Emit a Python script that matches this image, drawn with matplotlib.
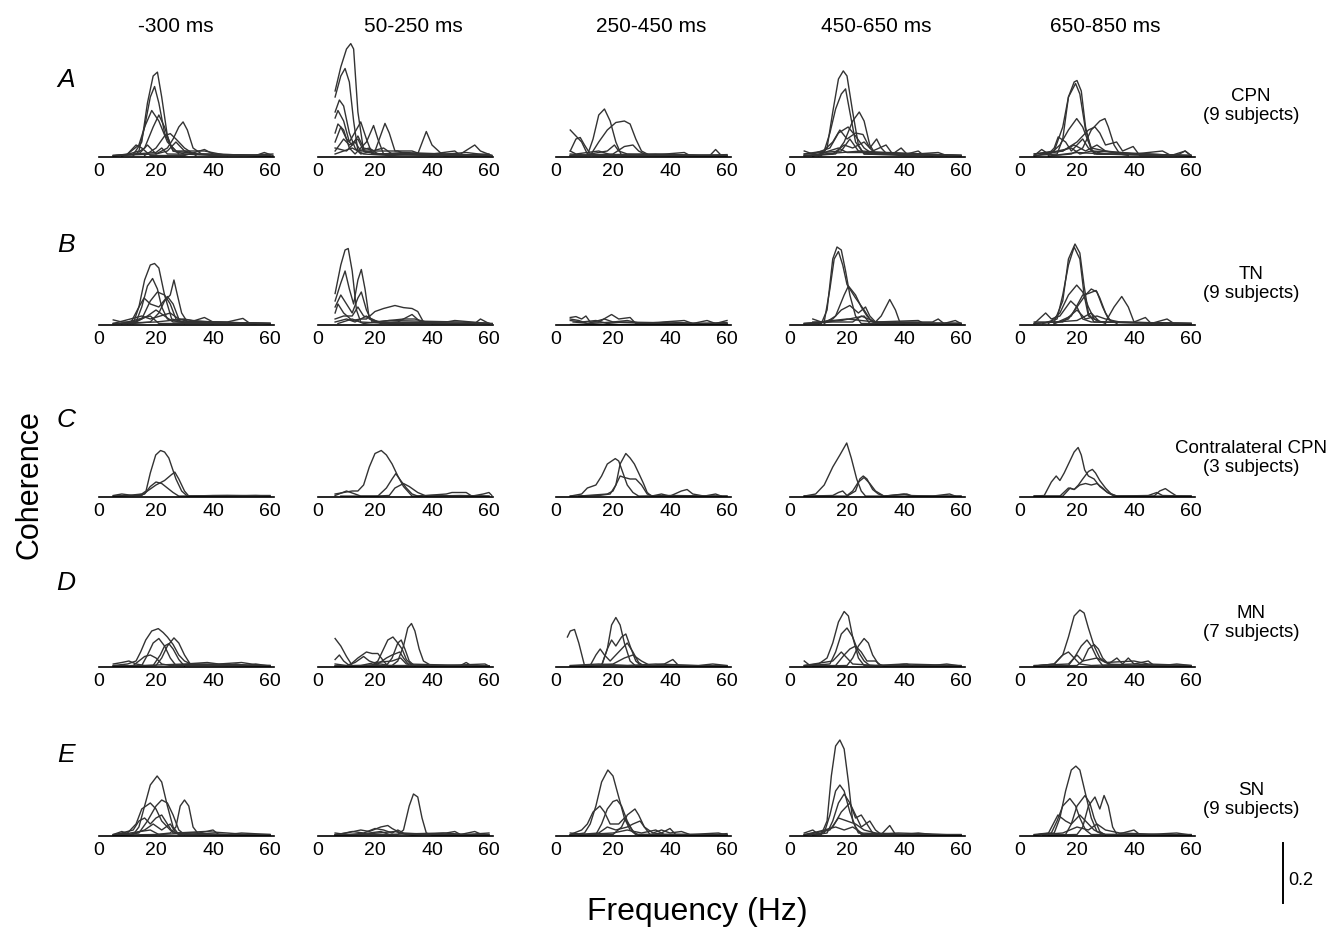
import matplotlib
matplotlib.use("Agg")
import matplotlib.pyplot as plt

plt.rcParams['font.family'] = ['Liberation Sans', 'DejaVu Sans']

# time windows (columns) and recording groups (rows)
windows = ['-300 ms', '50-250 ms', '250-450 ms', '450-650 ms', '650-850 ms']
row_letters = ['A', 'B', 'C', 'D', 'E']
groups = ['CPN\n(9 subjects)', 'TN\n(9 subjects)', 'Contralateral CPN\n(3 subjects)',
          'MN\n(7 subjects)', 'SN\n(9 subjects)']
freq_ticks = [0, 20, 40, 60]

# coherence spectra, one list of (Hz, coherence) points per subject
# row A: CPN
a1 = [
    [(5, .005), (12, .008), (15, .05), (17, .18), (19, .27), (20.5, .283), (22, .2), (24, .07), (26, .02), (30, .01), (40, .005), (60, .005)],
    [(8, .003), (14, .02), (16, .1), (18, .2), (19.5, .235), (21, .18), (23, .08), (26, .02), (35, .01), (60, .003)],
    [(10, .01), (14, .04), (16, .1), (18.5, .155), (21, .12), (24, .05), (27, .02), (37, .02), (45, .005)],
    [(12, .005), (16, .03), (19, .1), (21, .14), (23, .1), (25, .04), (28, .01)],
    [(5, .005), (20, .01), (24, .03), (26, .06), (28, .1), (29.5, .117), (31, .09), (33, .03), (36, .01), (60, .005)],
    [(16, .005), (20, .03), (23, .07), (25, .078), (27, .06), (30, .03), (34, .005)],
    [(6, .005), (10, .01), (13, .04), (15, .03), (18, .005), (30, .005), (37, .025), (40, .01), (55, .005), (58, .015), (61, .005)],
    [(5, .003), (14, .01), (17, .04), (20, .01), (24, .02), (27, .05), (30, .02), (34, .01), (61, .003)],
    [(5, .005), (20, .015), (22, .03), (24, .01), (40, .008), (50, .005), (61, .01)],
]
a2 = [
    [(6, .22), (8, .3), (10, .36), (11.5, .378), (12.5, .36), (14, .15), (16, .02), (20, .01), (30, .008), (40, .005), (60, .005)],
    [(6, .2), (8, .27), (9.5, .295), (11, .25), (12.5, .12), (14, .02), (18, .03), (21, .01), (35, .01), (38, .085), (40, .04), (44, .005), (60, .005)],
    [(6, .15), (7.5, .19), (9, .17), (11, .08), (13, .03), (15, .01), (23, .03), (26, .01), (60, .005)],
    [(6, .13), (7, .155), (9, .12), (11, .05), (14, .1), (15, .117), (17, .06), (19, .01), (30, .01), (50, .01), (55, .04), (57, .02), (61, .005)],
    [(6, .08), (7, .11), (9, .09), (11, .03), (13, .01), (17, .05), (19.5, .105), (21, .06), (23, .01), (40, .005)],
    [(6, .05), (8, .1), (10, .06), (12, .04), (14, .07), (16, .03), (20, .02), (23.5, .112), (25, .08), (27, .02), (33, .02), (36, .01), (60, .005)],
    [(6, .02), (9, .06), (11, .04), (14, .06), (16, .02), (22, .01), (30, .015), (45, .01), (52, .015), (61, .005)],
    [(6, .03), (10, .02), (13, .05), (15, .02), (28, .02), (31, .01), (45, .005), (60, .01)],
    [(6, .01), (12, .03), (16, .01), (25, .005), (40, .01), (48, .02), (50, .005), (61, .005)],
]
a3 = [
    [(5, .005), (11, .005), (13, .06), (15, .14), (17, .16), (19, .12), (21, .05), (23, .005), (40, .005), (60, .005)],
    [(5, .01), (12, .005), (15, .05), (18, .09), (21, .115), (24, .12), (26, .11), (28, .06), (30, .02), (33, .005), (60, .005)],
    [(5, .09), (7, .07), (9, .05), (11, .01), (13, .005), (30, .005), (60, .003)],
    [(5, .02), (7, .06), (8.5, .065), (10, .04), (12, .01), (18, .02), (20.5, .04), (22, .02), (25, .01), (40, .005)],
    [(5, .005), (20, .01), (24, .035), (27, .04), (29, .02), (32, .005), (45, .015), (47, .005), (54, .005), (56, .025), (58, .005)],
    [(5, .02), (7, .01), (15, .02), (20, .005), (35, .01), (50, .005), (60, .008)],
    [(5, .005), (30, .01), (60, .005)],
]
a4 = [
    [(5, .005), (11, .005), (13, .03), (15, .15), (17, .26), (18.7, .287), (20, .27), (22, .15), (24, .04), (26, .01), (40, .005), (60, .005)],
    [(5, .01), (12, .02), (14, .08), (16, .16), (18, .21), (19.5, .227), (21, .15), (23, .05), (26, .01), (45, .01), (60, .005)],
    [(8, .005), (16, .01), (19, .05), (22, .12), (24.3, .15), (26, .12), (28, .04), (30, .01), (60, .005)],
    [(5, .02), (8, .01), (14, .03), (17, .08), (20.4, .1), (23, .07), (26, .03), (29, .01), (60, .005)],
    [(10, .005), (15, .05), (17.5, .09), (20, .06), (23, .08), (25.6, .075), (28, .03), (30.4, .06), (32, .03), (34, .01), (50, .005)],
    [(5, .005), (15, .01), (19, .04), (22, .03), (26, .05), (29, .02), (33.7, .04), (36, .01), (39, .03), (41, .01), (45, .02), (47, .005), (60, .005)],
    [(5, .01), (18, .02), (21, .06), (24, .02), (28, .01), (44, .01), (52, .015), (55, .005)],
    [(8, .003), (17, .03), (20, .015), (35, .015), (60, .005)],
    [(5, .005), (25, .02), (50, .005)],
]
a5 = [
    [(5, .005), (13, .01), (15, .06), (17, .2), (19, .25), (20, .255), (21.5, .22), (23, .1), (25, .02), (30, .01), (60, .005)],
    [(5, .01), (12, .02), (15, .1), (17, .2), (19.5, .245), (21, .21), (23, .09), (25, .03), (35, .01), (60, .005)],
    [(10, .005), (14, .04), (17, .09), (19.9, .128), (22, .1), (24, .05), (26, .01), (60, .005)],
    [(12, .005), (18, .01), (22, .03), (25, .09), (28, .12), (29.8, .128), (31, .1), (33, .04), (35, .01), (38, .005)],
    [(8, .01), (15, .02), (20, .05), (24, .09), (26.3, .1), (28, .08), (30, .04), (33.9, .05), (36, .02), (39.7, .035), (42, .005), (60, .005)],
    [(5, .005), (7.6, .025), (10, .01), (12, .03), (13.4, .067), (16, .05), (18, .02), (22, .06), (24, .03), (27, .01), (50, .005)],
    [(5, .01), (15, .02), (19, .04), (23, .02), (27, .04), (30, .02), (40, .01), (50, .02), (53, .005), (58, .02), (60, .005)],
    [(10, .003), (20, .015), (30, .01), (45, .01), (55, .005), (57.9, .02), (60, .005)],
    [(5, .003), (18, .03), (21, .01), (25, .02), (60, .003)],
]

# row B: TN
b1 = [
    [(5, .005), (12, .005), (14, .06), (16, .15), (18, .2), (19.5, .205), (21, .19), (23, .1), (25.5, .02), (30, .01), (60, .005)],
    [(8, .005), (13, .01), (15, .06), (17, .13), (18.8, .155), (20.5, .12), (22, .06), (24, .02), (28, .01), (40, .005)],
    [(10, .005), (15, .02), (18, .08), (20.5, .11), (23, .1), (25, .07), (27, .02), (30, .005)],
    [(12, .005), (18, .01), (21, .04), (23, .08), (25, .1), (26.3, .15), (27.5, .1), (29, .04), (31, .01), (35, .01), (60, .005)],
    [(11, .005), (14, .06), (15.8, .09), (18, .07), (21, .06), (24, .095), (26, .07), (28, .02), (32, .01), (37, .025), (40, .01), (60, .005)],
    [(5, .017), (8, .01), (13, .01), (17, .03), (20, .05), (23, .03), (26, .01), (45, .01), (50.5, .022), (53, .005), (60, .005)],
    [(5, .005), (15, .03), (18, .02), (25, .04), (28, .02), (33, .015), (40, .01), (60, .005)],
    [(5, .005), (20, .01), (30, .02), (35, .01), (55, .005)],
    [(8, .005), (18, .03), (21, .005), (60, .005)],
]
b2 = [
    [(6, .105), (8, .2), (9.5, .25), (10.6, .255), (12, .18), (13.5, .05), (15, .01), (25, .005), (60, .005)],
    [(6, .08), (8, .14), (9.5, .18), (11, .12), (12.5, .07), (14, .15), (15.2, .185), (16.5, .12), (18, .02), (22, .01), (60, .005)],
    [(6, .06), (8, .1), (10, .07), (12, .04), (14, .09), (15.2, .11), (17, .05), (19, .01), (30, .005)],
    [(6, .04), (7, .07), (9, .04), (12, .015), (15, .02), (17, .02), (20, .045), (23, .055), (27, .065), (30, .058), (33, .055), (35, .045), (37, .01), (40, .005)],
    [(6, .02), (9, .03), (12, .03), (14, .06), (16, .03), (19, .02), (22, .005), (28, .01), (33, .035), (36, .01), (45, .01), (48, .015), (60, .005)],
    [(6, .01), (10, .02), (13, .01), (17, .03), (20, .01), (30, .02), (34, .02), (40, .005), (55, .005), (57, .02), (60, .005)],
    [(7, .005), (12, .02), (16, .005), (25, .015), (50, .01), (62, .005)],
]
b3 = [
    [(5, .025), (7, .028), (9, .02), (10.5, .03), (12, .01), (15, .01), (19.5, .035), (22, .02), (26, .025), (28, .005), (40, .005), (60, .005)],
    [(5, .02), (8, .015), (11, .005), (17, .02), (20, .01), (25, .015), (30, .005), (45, .015), (48, .005), (53, .015), (56, .005), (60, .015)],
    [(5, .015), (9, .01), (14, .015), (18, .005), (23, .01), (35, .008), (44, .005), (60, .005)],
    [(6, .01), (12, .005), (20, .01), (33, .005), (40, .01), (50, .005), (60, .008)],
    [(5, .005), (30, .005), (60, .005)],
]
b4 = [
    [(5, .005), (11, .005), (13, .05), (15, .22), (16.5, .26), (18, .25), (19.5, .18), (21, .1), (23, .03), (25, .005), (60, .005)],
    [(8, .01), (12, .01), (14, .12), (15.5, .22), (17, .245), (18.5, .2), (20, .135), (23, .09), (26, .05), (28, .02), (30, .005), (60, .005)],
    [(12, .005), (16, .03), (19, .1), (20.5, .13), (23, .1), (25, .06), (27, .03), (29, .01), (40, .005)],
    [(10, .005), (15, .02), (18, .05), (21, .065), (24, .04), (26.5, .06), (28, .03), (30, .01), (45, .015), (47, .005), (60, .005)],
    [(5, .005), (15, .01), (22, .01), (25, .03), (30, .01), (32, .03), (35, .085), (37, .05), (38.5, .01), (50, .01), (52, .02), (54, .005), (58, .015), (60, .005)],
    [(8, .02), (11, .01), (18, .015), (26, .03), (28, .005), (60, .005)],
    [(5, .005), (20, .02), (30, .01), (60, .005)],
]
b5 = [
    [(5, .005), (12, .01), (15, .08), (17, .22), (19.3, .27), (21, .24), (22.5, .13), (24, .04), (26, .01), (60, .005)],
    [(8, .005), (13, .02), (15, .1), (17, .2), (19, .26), (21, .22), (22.5, .1), (24, .03), (28, .01), (60, .005)],
    [(10, .005), (14, .04), (17, .1), (19.9, .133), (22, .11), (24, .06), (26, .02), (30, .005)],
    [(12, .005), (17, .02), (20, .06), (23, .1), (25, .12), (27, .11), (29, .06), (31, .02), (34, .005)],
    [(12, .005), (18, .03), (22, .1), (24, .105), (26.7, .115), (28, .09), (30, .04), (32, .01), (60, .005)],
    [(5, .005), (9, .04), (11, .02), (14, .03), (17.8, .08), (20, .06), (22, .02), (25, .01), (30, .01), (33, .06), (35.7, .095), (38, .06), (40, .01), (44, .025), (46, .005), (51.6, .02), (54, .005), (60, .005)],
    [(5, .01), (15, .01), (20, .05), (23, .02), (27, .03), (30, .02), (35, .01), (60, .005)],
    [(5, .005), (20, .015), (25, .04), (28, .01), (50, .005)],
]

# row C: contralateral CPN
c1 = [
    [(5, .003), (10, .005), (15, .01), (16.5, .02), (18, .08), (19.9, .14), (21.6, .155), (23, .15), (24.5, .13), (27, .06), (29, .02), (31, .003), (40, .005), (60, .005)],
    [(5, .005), (8, .01), (12, .005), (16, .01), (18, .035), (20, .05), (22, .045), (24, .03), (26, .015), (28, .003), (45, .005), (60, .003)],
    [(5, .003), (15, .005), (17, .02), (20, .04), (23, .055), (25.5, .075), (26.6, .083), (28, .06), (30, .02), (31.5, .003), (45, .003), (55, .005), (60, .003)],
]
c2 = [
    [(6, .01), (9, .015), (12, .02), (14, .02), (16, .04), (18, .1), (20, .145), (22.2, .155), (24, .14), (26, .11), (28, .07), (30, .035), (33, .003), (40, .005), (60, .003)],
    [(6, .005), (10, .02), (13, .01), (15, .003), (21, .003), (24, .03), (26, .06), (27.3, .078), (29, .055), (31, .03), (33, .01), (35, .003), (45, .01), (47, .015), (52, .015), (54, .003), (58, .01), (60, .015), (61, .005)],
    [(8, .003), (20, .003), (25, .005), (27, .03), (30, .045), (32, .035), (35, .015), (38, .003), (50, .005), (60, .003)],
]
c3 = [
    [(5, .003), (9, .01), (11, .03), (14, .04), (16, .07), (18, .11), (20.8, .128), (22, .12), (23.5, .08), (25, .04), (27, .015), (29, .003), (40, .005), (60, .003)],
    [(5, .003), (15, .005), (19, .01), (21, .04), (22.5, .11), (24.5, .145), (26, .13), (27.5, .11), (29, .08), (30.7, .045), (32, .015), (33.5, .003), (37, .01), (40, .003), (44, .02), (46, .025), (48, .01), (52, .003), (56, .01), (58, .003)],
    [(8, .003), (18, .01), (20, .02), (22.5, .07), (24, .065), (26, .06), (28, .06), (30, .04), (32, .01), (34, .003), (60, .003)],
]
c4 = [
    [(5, .003), (9, .01), (12, .04), (15, .1), (17.5, .14), (19.9, .18), (21.5, .13), (23.4, .06), (25, .02), (26.5, .003), (60, .003)],
    [(5, .003), (20, .003), (23, .02), (24.5, .06), (25.7, .07), (27, .06), (29, .025), (31, .01), (33, .003), (41, .01), (43, .003), (60, .003)],
    [(5, .003), (15, .005), (17, .015), (18.5, .02), (20, .005), (22, .02), (24, .05), (26, .065), (28, .045), (30, .02), (33, .003), (40, .01), (42, .005), (50, .003), (56, .01), (58, .003)],
]
c5 = [
    [(5, .003), (8.5, .005), (11, .05), (12.7, .07), (14, .055), (15.5, .08), (17, .11), (19, .15), (20.4, .165), (21.5, .14), (22.7, .09), (24, .07), (26, .06), (28, .035), (30.7, .015), (34, .003), (60, .003)],
    [(5, .003), (14, .003), (17, .03), (19, .025), (20.5, .04), (22, .06), (24, .085), (25.4, .092), (26.5, .08), (28, .055), (30, .03), (32, .01), (34, .003), (47, .003), (49, .02), (51, .028), (53, .015), (55, .003), (60, .003)],
    [(5, .003), (15, .003), (17.6, .03), (19, .025), (21, .04), (23, .045), (25, .04), (27, .045), (29, .03), (30.7, .015), (33, .003), (45, .005), (48, .015), (50, .005), (60, .003)],
]

# row D: MN
d1 = [
    [(5, .005), (10, .01), (13, .02), (14.6, .05), (16.4, .09), (18.5, .12), (20.8, .128), (22.5, .115), (24, .1), (26, .075), (28, .04), (30, .02), (32.7, .008), (40, .01), (60, .005)],
    [(5, .003), (15, .005), (17, .04), (19, .08), (21, .095), (23, .07), (25, .03), (27, .005), (45, .005), (60, .003)],
    [(5, .003), (20, .005), (22, .03), (24, .07), (26.3, .097), (28, .08), (30, .04), (32, .01), (40, .005), (60, .003)],
    [(8, .003), (19, .005), (21.5, .04), (23, .07), (24.5, .078), (26, .06), (28, .025), (30, .003)],
    [(5, .003), (12, .005), (14, .02), (16, .035), (18, .04), (20, .03), (22, .01), (25, .005), (35, .01), (45, .005), (48, .01), (52, .005), (55, .01), (60, .003)],
    [(5, .01), (8, .015), (10.5, .02), (13, .01), (16, .005), (30, .01), (38, .015), (42, .01), (50, .015), (57, .005), (60, .005)],
]
d2 = [
    [(6, .003), (20, .003), (26, .005), (28, .02), (30, .07), (31.5, .13), (32.8, .145), (34, .12), (35.5, .06), (37, .02), (40, .003), (60, .003)],
    [(6, .003), (19, .005), (21, .02), (23, .06), (24.5, .09), (26.3, .1), (28, .08), (29.5, .06), (31, .025), (33, .005), (40, .003)],
    [(10, .003), (24, .005), (26, .03), (28, .08), (29.2, .09), (30.5, .06), (32, .02), (34, .003)],
    [(6, .095), (8, .07), (10, .035), (12, .005), (16, .005), (22, .01), (25, .005), (50, .005), (52, .015), (54, .003), (60, .003)],
    [(6, .025), (7.5, .04), (9, .02), (11, .005), (14, .03), (17, .05), (19, .045), (21, .045), (23, .02), (24.5, .003), (40, .005), (60, .003)],
    [(6, .01), (10, .005), (13, .015), (16, .035), (18, .02), (21, .01), (24, .03), (26, .04), (28.7, .05), (30, .03), (32, .005), (45, .005), (58.6, .01), (60, .003)],
    [(6, .003), (15, .005), (20, .015), (26, .02), (29, .03), (31, .01), (60, .003)],
]
d3 = [
    [(4, .1), (5, .12), (6.5, .125), (8, .08), (10, .005), (20, .005), (60, .003)],
    [(5, .003), (16, .005), (18, .06), (19.5, .14), (21, .165), (22.5, .14), (24, .08), (26, .02), (28, .003), (40, .003)],
    [(8, .003), (16, .005), (18, .06), (19.5, .09), (21, .07), (23, .1), (24.5, .11), (26, .07), (28, .02), (30, .003)],
    [(5, .003), (12, .005), (14, .04), (15.5, .06), (17, .04), (19, .02), (22, .05), (25, .08), (27, .05), (29, .015), (31, .003), (60, .003)],
    [(10, .003), (20, .01), (24, .03), (27, .04), (30, .02), (33, .005), (38, .01), (41, .025), (43, .005), (60, .003)],
    [(5, .005), (15, .01), (25, .005), (35, .01), (50, .005), (55, .01), (60, .005)],
]
d4 = [
    [(5, .005), (10, .01), (13, .03), (15, .08), (17, .15), (19, .185), (20.5, .17), (22, .1), (24, .03), (26, .005), (60, .003)],
    [(5, .02), (7, .005), (14, .01), (16, .05), (18, .11), (20, .13), (22, .1), (24, .05), (26, .02), (28, .005), (60, .003)],
    [(8, .003), (20, .005), (22, .03), (24, .07), (26, .095), (27.5, .08), (29, .04), (31, .01), (33, .003), (41, .01), (43, .003)],
    [(5, .003), (16, .005), (19, .04), (21, .06), (23, .07), (25, .05), (27, .02), (30, .02), (32, .005), (50, .005), (55, .01), (60, .003)],
    [(5, .005), (15, .02), (18, .05), (20, .03), (22, .01), (30, .005), (40, .01), (60, .005)],
]
d5 = [
    [(5, .003), (12, .01), (15, .04), (17, .1), (19, .17), (21, .19), (22.5, .18), (24, .13), (26, .07), (28, .03), (31, .01), (40, .005), (60, .003)],
    [(5, .003), (17, .005), (19, .03), (21.5, .07), (23.5, .09), (25, .07), (27, .03), (29, .005), (60, .003)],
    [(10, .003), (20, .005), (22, .02), (24, .06), (26, .075), (27.5, .06), (29, .03), (31, .01), (34, .03), (36, .01), (38, .03), (40, .01), (45, .02), (47, .005)],
    [(5, .003), (12, .01), (15, .04), (17, .05), (19, .03), (21, .01), (25, .005), (40, .01), (50, .005), (55, .01), (60, .005)],
    [(5, .005), (17, .01), (20, .04), (22, .02), (27, .03), (30, .015), (40, .02), (45, .01), (60, .005)],
]

# row E: SN
e1 = [
    [(5, .003), (12, .005), (14, .03), (16, .1), (18, .17), (20.4, .2), (22, .18), (24, .1), (26, .03), (28, .005), (40, .005), (60, .003)],
    [(5, .003), (20, .005), (25, .01), (27, .03), (28.5, .1), (30, .12), (31.5, .1), (33, .03), (35, .005), (60, .003)],
    [(8, .003), (14, .01), (17, .05), (20, .1), (22, .12), (24, .11), (26, .07), (28, .02), (30, .005)],
    [(5, .005), (10, .01), (13, .04), (15, .09), (18, .11), (20, .09), (22, .05), (25, .02), (28, .005), (60, .003)],
    [(5, .003), (12, .02), (14, .05), (16, .06), (18, .04), (20, .06), (22, .07), (24, .04), (26, .01), (35, .01), (40, .02), (42, .005), (60, .003)],
    [(5, .005), (8, .015), (11, .005), (16, .02), (19, .04), (22, .02), (25, .04), (27, .01), (37, .015), (45, .01), (52, .005), (60, .005)],
    [(6, .003), (18, .02), (21, .005), (33, .01), (45, .005), (50, .01), (60, .005)],
]
e2 = [
    [(6, .003), (20, .005), (28, .005), (30, .02), (32, .1), (33.5, .14), (35, .13), (36.5, .06), (38, .01), (40, .003), (60, .003)],
    [(6, .005), (10, .01), (15, .02), (18, .015), (22, .03), (24.5, .035), (26, .025), (29, .01), (33, .003), (45, .01), (48, .015), (50, .005), (55, .015), (58, .003)],
    [(6, .003), (12, .015), (16, .01), (20, .025), (23, .02), (26, .01), (28, .02), (30, .01), (40, .005), (60, .005)],
    [(6, .01), (10, .005), (18, .01), (22, .015), (25, .005), (35, .008), (44, .01), (52, .005), (60, .01)],
    [(6, .003), (15, .005), (27, .015), (31, .005), (60, .003)],
]
e3 = [
    [(5, .003), (10, .01), (12, .04), (14, .1), (16, .18), (18.2, .22), (20, .2), (22, .13), (24, .06), (26, .02), (28, .005), (40, .005), (60, .003)],
    [(5, .003), (14, .005), (16, .04), (18, .09), (20, .115), (21.4, .12), (23, .1), (25, .05), (27, .015), (29, .003), (60, .003)],
    [(8, .003), (20, .005), (23, .03), (25, .07), (27.7, .09), (29, .07), (31, .03), (33, .005), (37, .01), (40, .025), (42, .005), (60, .003)],
    [(5, .005), (9, .02), (11, .04), (13, .08), (15.4, .1), (17, .08), (19, .04), (22, .04), (24, .06), (26, .03), (28, .005), (45, .005), (60, .003)],
    [(5, .003), (15, .01), (18, .03), (21, .02), (25, .03), (27, .04), (29.5, .05), (31, .03), (34, .01), (37, .02), (40, .01), (44, .015), (47, .005), (57, .01), (60, .003)],
    [(5, .01), (10, .005), (20, .01), (25, .02), (30, .01), (35, .02), (38, .005), (55, .005), (60, .008)],
]
e4 = [
    [(5, .005), (11, .005), (13, .05), (14.5, .2), (16, .3), (17.5, .32), (19, .29), (20.5, .18), (22, .05), (24, .01), (40, .005), (60, .003)],
    [(5, .003), (12, .01), (14, .07), (16, .15), (17.5, .17), (19, .15), (21, .08), (23, .03), (25, .005), (60, .003)],
    [(8, .003), (13, .01), (15, .05), (17, .11), (19, .14), (21, .11), (23, .06), (25, .07), (27, .04), (29, .01), (32, .005)],
    [(5, .01), (8, .02), (10, .005), (15, .03), (18, .08), (21, .11), (23, .07), (25, .03), (28, .05), (30, .02), (32, .005), (35, .035), (37, .005), (60, .003)],
    [(5, .003), (14, .02), (17, .06), (20, .05), (23, .04), (26, .02), (30, .01), (40, .005), (45, .01), (50, .005), (60, .003)],
    [(5, .005), (10, .015), (16, .03), (19, .02), (22, .03), (26, .005), (38, .01), (55, .005), (60, .005)],
]
e5 = [
    [(5, .003), (12, .01), (14, .06), (16, .15), (18, .22), (19.6, .233), (21, .22), (23, .14), (25, .06), (27, .015), (30, .005), (60, .003)],
    [(5, .003), (11, .01), (13, .05), (15, .1), (17.5, .125), (19.5, .1), (21, .06), (23, .02), (25, .005), (60, .003)],
    [(8, .003), (16, .005), (18, .04), (20, .1), (22.8, .135), (24.5, .11), (26, .06), (28, .015), (30, .003)],
    [(10, .003), (20, .005), (22, .03), (24, .1), (26.3, .13), (28, .09), (29.5, .135), (31, .1), (32.5, .03), (34, .005), (40, .02), (42, .005), (60, .003)],
    [(5, .005), (10, .01), (13.3, .07), (16, .05), (18, .04), (21, .07), (23, .05), (26, .02), (29, .005), (45, .005), (55, .01), (60, .003)],
    [(5, .003), (15, .01), (20, .03), (24, .02), (27, .04), (30, .02), (35, .01), (50, .005), (60, .005)],
]

panels = [[a1, a2, a3, a4, a5],
          [b1, b2, b3, b4, b5],
          [c1, c2, c3, c4, c5],
          [d1, d2, d3, d4, d5],
          [e1, e2, e3, e4, e5]]

W, H = 1332, 933
fig = plt.figure(figsize=(W / 100, H / 100), dpi=100)

# layout in pixels: x of 0 Hz per column, baseline y per row
col_x0 = [99, 318, 556, 790, 1020]
row_y0 = [157, 325, 497, 667, 836]
px_per_hz = 2.85
xmax = 61.5
ymax = 0.45
ax_h = 135  # px, so 0.45 coherence -> 135 px (0.2 -> 60 px)

axes = []
for r in range(5):
    for c in range(5):
        left = col_x0[c] / W
        bottom = (H - row_y0[r]) / H
        ax = fig.add_axes([left, bottom, xmax * px_per_hz / W, ax_h / H])
        for curve in panels[r][c]:
            f = [p[0] for p in curve]
            coh = [p[1] for p in curve]
            ax.plot(f, coh, color='#333333', lw=1.0)
        ax.set_xlim(0, xmax)
        ax.set_ylim(0, ymax)
        for s in ['top', 'right', 'left']:
            ax.spines[s].set_visible(False)
        ax.spines['bottom'].set_linewidth(1.2)
        ax.set_yticks([])
        ax.set_xticks(freq_ticks)
        ax.tick_params(axis='x', length=0, pad=4, labelsize=14)
        ax.patch.set_alpha(0)
        axes.append(ax)

# column titles
title_x = [176, 413, 651, 876, 1105]
for c in range(5):
    fig.text(title_x[c] / W, 1 - 26 / H, windows[c], ha='center', va='center', fontsize=15)

# row letters
letter_y = [80, 245, 420, 583, 755]
for r in range(5):
    fig.text(66 / W, 1 - letter_y[r] / H, row_letters[r], ha='center', va='center',
             fontsize=19, style='italic')

# group labels on the right
group_y = [106, 284, 458, 623, 800]
for r in range(5):
    fig.text(1251 / W, 1 - group_y[r] / H, groups[r], ha='center', va='center',
             fontsize=13.5, linespacing=1.2)

fig.text(30 / W, 1 - 485 / H, 'Coherence', rotation=90, ha='center', va='center', fontsize=22)
fig.text(697 / W, 1 - 912 / H, 'Frequency (Hz)', ha='center', va='center', fontsize=23)

# 0.2 coherence scale bar, drawn in the last panel's data units
sb = axes[-1]
sb.plot([92.3, 92.3], [-0.023, -0.223], color='black', lw=1.4, clip_on=False)
sb.text(98.5, -0.147, '0.2', ha='center', va='center', fontsize=13)

fig.savefig('out.png', dpi=100)
